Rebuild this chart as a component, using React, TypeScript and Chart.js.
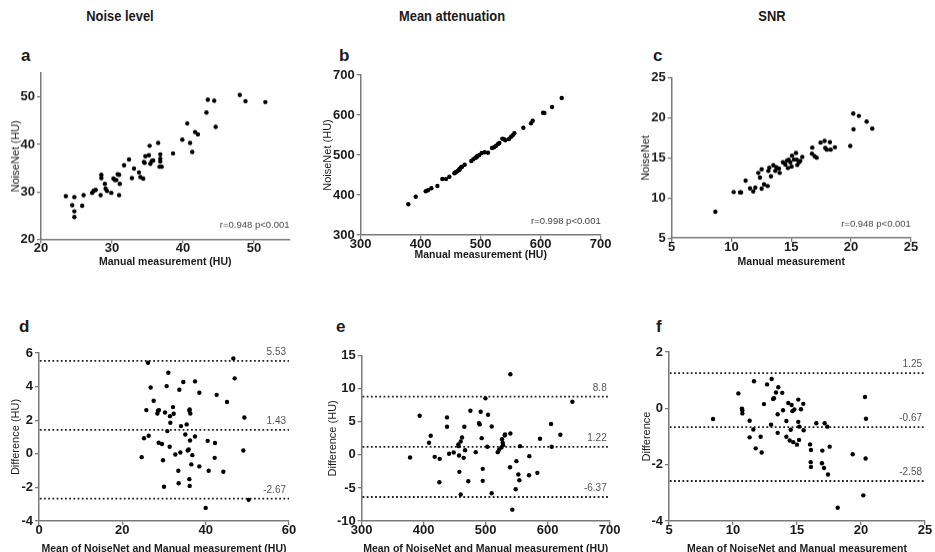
import React, { useEffect, useRef } from "react";
import { Chart, registerables } from "chart.js";

Chart.register(...registerables);

// ---------- data ----------
const columnTitles = ["Noise level", "Mean attenuation", "SNR"];
const panelLetters = ["a", "b", "c", "d", "e", "f"];

// a: Noise level
const noiseManual = [23.5, 24.4, 24.7, 24.7, 24.7, 25.8, 26.0, 27.2, 27.4, 27.7, 28.4, 28.5, 28.5, 29.0, 29.1, 29.3, 29.9, 30.2, 30.4, 30.6, 30.8, 31.0, 31.0, 31.1, 31.7, 32.4, 32.8, 33.1, 33.8, 34.0, 34.4, 34.5, 34.6, 34.7, 35.2, 35.3, 35.4, 35.6, 35.8, 36.5, 36.8, 36.8, 36.8, 36.7, 37.0, 38.6, 39.9, 40.6, 41.0, 41.3, 41.7, 42.1, 43.3, 43.5, 44.4, 44.6, 48.0, 48.8, 51.6];
const noiseNet = [29.1, 27.2, 28.9, 25.9, 24.7, 27.1, 29.3, 29.8, 30.2, 30.4, 29.3, 33.6, 32.9, 31.7, 30.7, 30.2, 29.8, 32.8, 32.5, 32.5, 33.7, 33.6, 29.3, 31.7, 35.6, 36.8, 32.9, 34.9, 34.1, 33.1, 32.8, 36.3, 36.1, 37.5, 37.7, 39.7, 35.9, 36.5, 36.6, 40.3, 37.9, 37.0, 36.4, 35.3, 35.3, 38.1, 41.0, 44.4, 40.3, 38.4, 42.6, 42.1, 46.7, 49.4, 49.2, 43.7, 50.4, 49.1, 48.9];

// b: Mean attenuation
const attenManual = [379.4, 391.7, 408.3, 412.2, 417.8, 427.8, 436.1, 442.2, 447.8, 456.1, 458.9, 461.7, 463.9, 465.6, 467.2, 473.3, 484.4, 487.8, 491.1, 494.4, 497.8, 501.7, 506.7, 512.2, 518.9, 522.2, 525.6, 528.9, 531.1, 536.1, 538.9, 541.1, 547.2, 550.6, 553.3, 556.1, 571.1, 583.9, 586.7, 603.9, 606.1, 618.9, 635.0, 457.2, 464.4, 493.3, 468.9];
const attenNet = [376.7, 395.8, 409.2, 411.7, 416.7, 422.5, 440, 440, 445.8, 454.2, 457.5, 460, 462.5, 465.8, 469.2, 475.8, 485, 489.2, 493.3, 497.5, 500, 505, 506.7, 505.8, 517.5, 519.2, 523.3, 527.5, 530, 540.8, 539.2, 536.7, 540, 545.8, 549.2, 554.2, 568.3, 579.2, 585.8, 605.8, 605, 620, 642.5, 455.8, 464.2, 494.2, 470.8];

// c: SNR
const snrManual = [8.65, 10.18, 10.71, 10.8, 11.18, 11.55, 11.82, 11.99, 12.24, 12.38, 12.52, 12.52, 12.72, 13.02, 13.08, 13.16, 13.3, 13.5, 13.66, 13.75, 13.97, 14.03, 14.3, 14.5, 14.64, 14.78, 14.72, 14.92, 15.03, 15.06, 15.22, 15.39, 15.45, 15.5, 15.64, 15.75, 15.92, 16.73, 16.75, 16.95, 17.12, 17.45, 17.79, 17.84, 17.97, 18.23, 18.29, 18.65, 19.93, 20.18, 20.2, 20.65, 21.3, 21.77];
const snrNet = [8.29, 10.75, 10.71, 10.7, 12.17, 11.2, 10.83, 11.29, 13.13, 12.54, 13.58, 11.17, 11.71, 11.5, 13.38, 13.79, 12.71, 14.08, 13.38, 13.83, 13.67, 13.13, 14.46, 14.17, 14.67, 14.79, 13.75, 14.46, 13.92, 15.29, 14.79, 15.63, 14.79, 14.13, 14.46, 14.63, 15.13, 15.54, 16.29, 15.21, 15.04, 16.92, 17.13, 16.25, 16.04, 16.96, 16.04, 16.33, 16.5, 20.54, 18.58, 20.25, 19.54, 18.67];

// d: Bland-Altman noise
const noiseMean = [26.16, 31.04, 26.8, 30.64, 34.64, 37.44, 33.68, 38.48, 46.64, 46.96, 42.64, 45.12, 27.52, 25.76, 28.56, 28.8, 28.4, 30.24, 32.16, 32.32, 31.44, 31.52, 36.16, 36.32, 36.08, 49.28, 34.08, 35.44, 30.8, 25.2, 26.32, 35.12, 37.44, 36.24, 28.72, 29.52, 31.36, 40.48, 42.24, 24.64, 29.76, 32.72, 33.92, 35.68, 35.92, 36.8, 49.04, 42.16, 33.44, 36.56, 38.48, 40.72, 44.24, 30.0, 33.52, 36.08, 36.16, 50.32, 40.0];
const noiseDiff = [5.42, 4.82, 3.95, 4.03, 4.27, 4.31, 3.81, 3.63, 5.68, 4.49, 3.51, 3.08, 3.16, 2.6, 2.56, 2.6, 2.40, 2.46, 2.78, 2.38, 2.24, 1.85, 2.64, 2.40, 2.56, 2.16, 1.65, 1.75, 1.35, 0.93, 1.07, 1.15, 1.03, 0.79, 0.66, 0.58, 0.42, 0.77, 0.64, -0.20, -0.38, -0.04, 0.08, 0.2, 0.26, -0.08, 0.2, -0.24, -1.01, -0.63, -0.75, -1.01, -1.07, -1.96, -1.75, -1.51, -1.91, -2.74, -3.22];
const noiseLimits = [5.53, 1.43, -2.67];

// e: Bland-Altman attenuation
const attenMean = [378, 393.5, 411.3, 408.6, 417.7, 425.8, 425.3, 437.6, 437.6, 440.9, 448.4, 455.9, 456.5, 457, 457.5, 459.7, 461.8, 464.5, 466.7, 465.6, 459.7, 471.9, 475.3, 483.9, 489.2, 490.3, 491.9, 493.5, 495.2, 495.2, 499.5, 502.7, 503.8, 509.7, 509.7, 519.4, 521.5, 525.3, 526.3, 528, 530.6, 531.2, 527.4, 539.8, 539.8, 539.2, 549.5, 548.4, 552.7, 554.3, 555.4, 543, 570.4, 569.9, 583.3, 587.6, 605.4, 606.5, 620.4, 639.8];
const attenDiff = [-0.40, 5.92, 2.89, 1.83, -0.30, -0.60, -4.14, 5.67, 4.25, 0.16, 0.36, 1.57, 1.32, -0.09, -2.57, 2.03, 2.63, -0.45, 0.71, 4.25, -6.0, -3.98, 6.68, 0.41, 4.81, 4.61, 6.53, 2.53, -2.11, -3.93, 8.55, 1.22, 6.07, 4.30, -5.80, 0.41, 0.77, 1.12, 2.38, 1.47, 2.94, 3.09, 1.83, 12.19, 3.24, -1.86, -0.95, -5.2, -2.97, -3.83, 1.32, -8.28, -0.19, -3.08, -2.72, 2.43, 4.66, 1.22, 3.04, 8.04];
const attenLimits = [8.8, 1.22, -6.37];

// f: Bland-Altman SNR
const snrMean = [8.44, 10.42, 10.7, 10.73, 10.73, 11.3, 11.59, 11.3, 12.16, 11.77, 12.24, 11.64, 12.42, 12.66, 13.02, 12.97, 13.13, 13.2, 13.36, 13.54, 13.49, 13.49, 13.85, 13.91, 14.17, 14.17, 14.32, 14.43, 14.51, 14.58, 14.64, 14.71, 14.79, 15, 15.1, 15.1, 15.16, 15.18, 15.31, 15.49, 15.52, 16.02, 16.09, 16.07, 16.09, 16.51, 16.98, 16.95, 17.11, 17.16, 17.37, 17.42, 17.55, 18.18, 19.35, 20.18, 20.31, 20.39, 20.36];
const snrDiff = [-0.38, 0.53, -0.01, -0.07, -0.18, -0.44, -0.75, -1.03, -1.01, -1.42, -1.57, 0.96, 0.15, 0.85, 1.04, -0.58, 0.33, 0.36, 0.56, 0.75, -0.21, -0.87, 0.55, -0.07, -0.45, -1.01, 0.19, -1.14, -0.76, 0.12, -0.10, -1.20, -0.04, -1.29, 0.31, -0.48, -1.12, -0.65, -0.03, 0.16, -0.78, -1.28, -1.48, -1.91, -2.08, -0.53, -1.50, -1.95, -2.12, -0.53, -0.65, -2.35, -1.36, -3.53, -1.63, -3.09, 0.40, -0.37, -1.78];
const snrLimits = [1.25, -0.67, -2.58];

// correlation annotations
const corrTexts = ["r=0.948 p<0.001", "r=0.998 p<0.001", "r=0.948 p<0.001"];

// axis ranges [min, max, step]
const axA = { x: [20, 55, 10], y: [20, 55, 10] };
const axB = { x: [300, 700, 100], y: [300, 700, 100] };
const axC = { x: [5, 25, 5], y: [5, 25, 5] };
const axD = { x: [0, 60, 20], y: [-4, 6, 2] };
const axE = { x: [300, 700, 100], y: [-10, 15, 5] };
const axF = { x: [5, 25, 5], y: [-4, 2, 2] };

// axis titles
const xTitleTop = ["Manual measurement (HU)", "Manual measurement (HU)", "Manual measurement"];
const yTitleTop = ["NoiseNet (HU)", "NoiseNet (HU)", "NoiseNet"];
const xTitleBottom = [
  "Mean of NoiseNet and Manual measurement (HU)",
  "Mean of NoiseNet and Manual measurement (HU)",
  "Mean of NoiseNet and Manual measurement",
];
const yTitleBottom = ["Difference (HU)", "Difference (HU)", "Difference"];

// ---------- styling / layout ----------
const FONT = "'Liberation Sans', Arial, Helvetica, sans-serif";
const AXIS_COLOR = "#7a7a7a";
const TEXT_COLOR = "#1a1a1a";

type PanelDef = {
  left: number; top: number; w: number; h: number;
  yw: number; xh: number; padTop: number; padRight: number; yTitlePad: number;
  ax: { x: number[]; y: number[] };
  xs: number[]; ys: number[];
  xTitle: string; yTitle: string;
  corr?: string;
  limits?: number[];
};

const zip = (xs: number[], ys: number[]) => xs.map((x, i) => ({ x, y: ys[i] }));

const panels: PanelDef[] = [
  { left: 0, top: 60, w: 300, h: 207.5, yw: 41, xh: 28.5, padTop: 13, padRight: 10.5, yTitlePad: 9.4, ax: axA, xs: noiseManual, ys: noiseNet, xTitle: xTitleTop[0], yTitle: yTitleTop[0], corr: corrTexts[0] },
  { left: 320, top: 60, w: 295, h: 201, yw: 40.7, xh: 26, padTop: 15, padRight: 14.3, yTitlePad: 1.8, ax: axB, xs: attenManual, ys: attenNet, xTitle: xTitleTop[1], yTitle: yTitleTop[1], corr: corrTexts[1] },
  { left: 630, top: 60, w: 295, h: 207.5, yw: 41.7, xh: 29.8, padTop: 17.7, padRight: 14.1, yTitlePad: 9.4, ax: axC, xs: snrManual, ys: snrNet, xTitle: xTitleTop[2], yTitle: yTitleTop[2], corr: corrTexts[2] },
  { left: 0, top: 335, w: 300, h: 220, yw: 39, xh: 34, padTop: 18, padRight: 11, yTitlePad: 9.4, ax: axD, xs: noiseMean, ys: noiseDiff, xTitle: xTitleBottom[0], yTitle: yTitleBottom[0], limits: noiseLimits },
  { left: 320, top: 335, w: 305, h: 220, yw: 41.7, xh: 34, padTop: 20.7, padRight: 15.3, yTitlePad: 6.4, ax: axE, xs: attenMean, ys: attenDiff, xTitle: xTitleBottom[1], yTitle: yTitleBottom[1], limits: attenLimits },
  { left: 630, top: 335, w: 305, h: 220, yw: 39, xh: 34, padTop: 17, padRight: 10, yTitlePad: 10.4, ax: axF, xs: snrMean, ys: snrDiff, xTitle: xTitleBottom[2], yTitle: yTitleBottom[2], limits: snrLimits },
];

const titlePos = [
  { cx: 120, top: 7 },
  { cx: 452, top: 7 },
  { cx: 772, top: 7 },
];
const letterPos = [
  { left: 21, top: 47 },
  { left: 339, top: 47 },
  { left: 653, top: 47 },
  { left: 19, top: 318 },
  { left: 336, top: 318 },
  { left: 656, top: 318 },
];

function makeScale(range: number[], title: string, fixed: number, isY: boolean, titlePad: number) {
  return {
    type: "linear" as const,
    position: isY ? ("left" as const) : ("bottom" as const),
    min: range[0],
    max: range[1],
    afterFit: (s: any) => {
      if (isY) s.width = fixed;
      else s.height = fixed;
    },
    ticks: {
      stepSize: range[2],
      includeBounds: false,
      autoSkip: false,
      maxRotation: 0,
      color: TEXT_COLOR,
      padding: isY ? 2 : -2.5,
      font: { family: FONT, size: 13, weight: "bold" as const },
    },
    grid: {
      display: true,
      drawOnChartArea: false,
      drawTicks: true,
      tickLength: 4,
      color: AXIS_COLOR,
      lineWidth: 1.3,
    },
    border: { display: true, color: AXIS_COLOR, width: 1.5 },
    title: {
      display: true,
      text: title,
      color: TEXT_COLOR,
      font: isY
        ? { family: FONT, size: 11, weight: "normal" as const }
        : { family: FONT, size: 10.5, weight: "bold" as const },
      padding: isY ? { top: titlePad, bottom: 0 } : { top: 0, bottom: 0 },
    },
  };
}

function Panel({ p }: { p: PanelDef }) {
  const ref = useRef<HTMLCanvasElement>(null);
  useEffect(() => {
    if (!ref.current) return;
    const datasets: any[] = [
      {
        data: zip(p.xs, p.ys),
        pointRadius: 2.2,
        pointBackgroundColor: "#000",
        pointBorderWidth: 0,
        showLine: false,
      },
    ];
    (p.limits || []).forEach((v) => {
      datasets.push({
        data: [
          { x: p.ax.x[0], y: v },
          { x: p.ax.x[1], y: v },
        ],
        showLine: true,
        pointRadius: 0,
        borderColor: "#222",
        borderWidth: 1.8,
        borderDash: [1.8, 2.4],
        borderDashOffset: -5,
        borderCapStyle: "butt",
      });
    });
    const textPlugin = {
      id: "panelText",
      afterDraw(chart: any) {
        const { ctx, chartArea, scales } = chart;
        ctx.save();
        ctx.fillStyle = "#444";
        ctx.textAlign = "right";
        ctx.textBaseline = "middle";
        if (p.corr) {
          ctx.font = `9.5px ${FONT}`;
          ctx.fillText(p.corr, chartArea.right, chartArea.bottom - 14);
        }
        (p.limits || []).forEach((v) => {
          ctx.font = `10px ${FONT}`;
          ctx.fillStyle = "#555";
          const y = scales.y.getPixelForValue(v);
          ctx.fillText(String(v), chartArea.right - 3, y - 8.5);
        });
        ctx.restore();
      },
    };
    const chart = new Chart(ref.current, {
      type: "scatter",
      data: { datasets },
      options: {
        responsive: false,
        animation: false,
        events: [],
        layout: { padding: { top: p.padTop, right: p.padRight, left: 0, bottom: 0 } },
        plugins: { legend: { display: false }, tooltip: { enabled: false }, title: { display: false } },
        scales: {
          x: makeScale(p.ax.x, p.xTitle, p.xh, false, 0),
          y: makeScale(p.ax.y, p.yTitle, p.yw, true, p.yTitlePad),
        },
      } as any,
      plugins: [textPlugin],
    });
    return () => chart.destroy();
  }, []);
  return (
    <div style={{ position: "absolute", left: p.left, top: p.top, width: p.w, height: p.h }}>
      <canvas ref={ref} width={p.w} height={p.h} style={{ width: p.w, height: p.h, display: "block" }} />
    </div>
  );
}

export default function App() {
  return (
    <div
      style={{
        position: "fixed",
        left: 0,
        top: 0,
        width: 935,
        height: 552,
        overflow: "hidden",
        background: "#fff",
        fontFamily: FONT,
      }}
    >
      {columnTitles.map((t, i) => (
        <div
          key={t}
          style={{
            position: "absolute",
            left: titlePos[i].cx - 100,
            top: titlePos[i].top,
            width: 200,
            textAlign: "center",
            fontWeight: "bold",
            fontSize: 15,
            lineHeight: "18px",
            color: TEXT_COLOR,
            transform: "scaleX(0.86)",
          }}
        >
          {t}
        </div>
      ))}
      {panelLetters.map((l, i) => (
        <div
          key={l}
          style={{
            position: "absolute",
            left: letterPos[i].left,
            top: letterPos[i].top,
            fontWeight: "bold",
            fontSize: 17,
            lineHeight: "18px",
            color: TEXT_COLOR,
          }}
        >
          {l}
        </div>
      ))}
      {panels.map((p, i) => (
        <Panel key={i} p={p} />
      ))}
    </div>
  );
}
